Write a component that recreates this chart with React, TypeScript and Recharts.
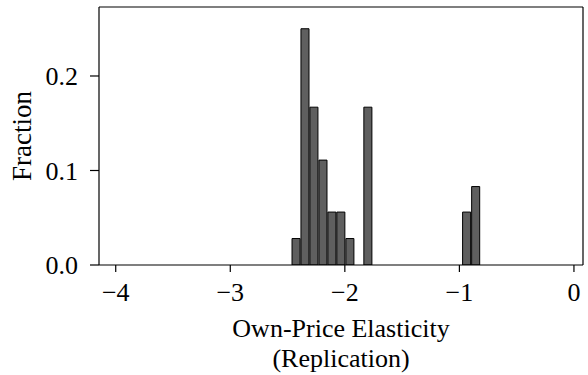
import React from "react";
import { ComposedChart, Bar, XAxis, YAxis, ReferenceLine } from "recharts";

// histogram bin centres (own-price elasticity) and fraction per bin
const binCenters = [
  -2.422, -2.344, -2.266, -2.187, -2.109, -2.031, -1.952, -1.874, -1.795, -1.717,
  -1.638, -1.560, -1.482, -1.403, -1.325, -1.246, -1.168, -1.089, -1.011, -0.933, -0.854,
];
const fractions = [
  0.028, 0.25, 0.167, 0.111, 0.056, 0.056, 0.028, 0, 0.167, 0,
  0, 0, 0, 0, 0, 0, 0, 0, 0, 0.056, 0.083,
];
const xTicks = [-4, -3, -2, -1, 0];
const yTicks = [0, 0.1, 0.2];

const X_DOMAIN: [number, number] = [-4.146, 0.079];
const Y_DOMAIN: [number, number] = [0, 0.273];
const FONT = "'Liberation Serif', 'Times New Roman', serif";
const TICK_FS = 26;
const LABEL_FS = 26;

const data = binCenters.map((x, i) => ({ x, frac: fractions[i] }));

const fmtX = (v: number) => (v === 0 ? "0" : String(v).replace("-", "\u2212"));
const fmtY = (v: number) => v.toFixed(1);

function XLabel(props: any) {
  const vb = props.viewBox || {};
  const cx = vb.x + vb.width / 2;
  return (
    <g>
      <text x={cx} y={vb.y + 72} textAnchor="middle" fontSize={LABEL_FS} fontFamily={FONT} fill="#000">
        Own-Price Elasticity
      </text>
      <text x={cx} y={vb.y + 102} textAnchor="middle" fontSize={LABEL_FS} fontFamily={FONT} fill="#000">
        (Replication)
      </text>
    </g>
  );
}

function YLabel(props: any) {
  const vb = props.viewBox || {};
  const cy = vb.y + vb.height / 2;
  return (
    <text
      x={31}
      y={cy}
      transform={`rotate(-90, 31, ${cy})`}
      textAnchor="middle"
      fontSize={27}
      fontFamily={FONT}
      fill="#000"
    >
      Fraction
    </text>
  );
}

export default function App() {
  const tickStyle = { fontSize: TICK_FS, fontFamily: FONT, fill: "#000" };
  return (
    <div style={{ position: "absolute", left: 0, top: 0, background: "#fff" }}>
      <ComposedChart width={588} height={375} data={data} margin={{ top: 7, right: 5, left: 0, bottom: 0 }}>
        <XAxis
          dataKey="x"
          type="number"
          domain={X_DOMAIN}
          ticks={xTicks}
          tickFormatter={fmtX}
          tick={tickStyle}
          height={110}
          tickSize={7}
          tickMargin={11}
          stroke="#000"
          strokeWidth={1.2}
          allowDataOverflow
          label={<XLabel />}
        />
        <YAxis
          type="number"
          domain={Y_DOMAIN}
          ticks={yTicks}
          tickFormatter={fmtY}
          tick={tickStyle}
          width={99}
          tickSize={9}
          tickMargin={12}
          stroke="#000"
          strokeWidth={1.2}
          allowDataOverflow
          label={<YLabel />}
        />
        <ReferenceLine y={Y_DOMAIN[1]} stroke="#000" strokeWidth={1.2} />
        <ReferenceLine x={X_DOMAIN[1]} stroke="#000" strokeWidth={1.2} />
        <Bar dataKey="frac" barSize={9} fill="#5f5f5f" stroke="#000" strokeWidth={1} isAnimationActive={false} />
      </ComposedChart>
    </div>
  );
}
